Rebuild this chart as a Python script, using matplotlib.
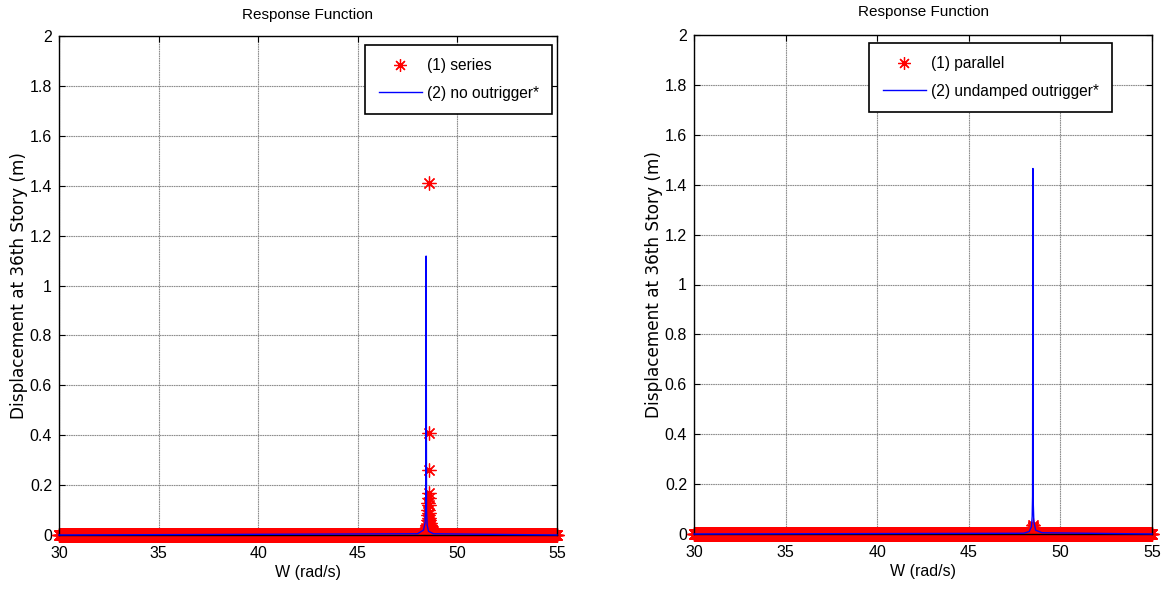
import numpy as np
import matplotlib
matplotlib.use("Agg")
import matplotlib.pyplot as plt

# ---------------- data ----------------
w_grid = np.linspace(30, 55, 1251)          # frequency sampling grid (rad/s)

# left: (1) series -- points departing from ~0 near resonance
series_peak_w = [48.35, 48.40, 48.44, 48.47, 48.50, 48.52, 48.53, 48.54, 48.55, 48.555,
                 48.56, 48.565, 48.57, 48.575, 48.58, 48.585, 48.59, 48.60, 48.61,
                 48.62, 48.64, 48.67, 48.70, 48.75, 48.80]
series_peak_y = [0.015, 0.02, 0.03, 0.04, 0.06, 0.08, 0.10, 0.13, 0.17, 0.26,
                 1.41, 0.41, 0.15, 0.12, 0.09, 0.07, 0.06, 0.05, 0.04,
                 0.035, 0.03, 0.025, 0.02, 0.015, 0.01]

# left: (2) no outrigger*
nooutr_w = [30.0, 48.00, 48.30, 48.38, 48.41, 48.43, 48.45, 48.48, 48.55, 48.80, 55.0]
nooutr_y = [0.0, 0.005, 0.02, 0.05, 0.12, 1.118, 0.10, 0.04, 0.015, 0.005, 0.0]

# right: (1) parallel
parallel_peak_w = [48.40, 48.45, 48.48, 48.50, 48.52, 48.55, 48.60]
parallel_peak_y = [0.01, 0.02, 0.03, 0.035, 0.03, 0.02, 0.01]

# right: (2) undamped outrigger*
undamped_w = [30.0, 48.00, 48.30, 48.42, 48.46, 48.48, 48.50, 48.52, 48.55, 48.65, 49.00, 55.0]
undamped_y = [0.0, 0.003, 0.01, 0.03, 0.07, 0.15, 1.465, 0.12, 0.05, 0.015, 0.005, 0.0]

x_ticks = [30, 35, 40, 45, 50, 55]
y_ticks = [0, 0.2, 0.4, 0.6, 0.8, 1, 1.2, 1.4, 1.6, 1.8, 2]
y_ticklabels = ['0', '0.2', '0.4', '0.6', '0.8', '1', '1.2', '1.4', '1.6', '1.8', '2']

# --------------- styling ---------------
plt.rcParams['font.family'] = ['Liberation Sans', 'DejaVu Sans']
plt.rcParams['font.size'] = 10.5

fig = plt.figure(figsize=(11.66, 5.90), dpi=100)
axL = fig.add_axes([59/1166, 1-535/590, (557-59)/1166, (535-36)/590])
axR = fig.add_axes([694/1166, 1-534/590, (1152-694)/1166, (534-35)/590])

AST = (8, 2, 0)   # 8-armed asterisk, like MATLAB '*'
MK = dict(linestyle='none', marker=AST, color='red', markersize=10,
          markeredgewidth=0.9, clip_on=False)


def setup(ax):
    ax.set_xlim(30, 55)
    ax.set_ylim(0, 2)
    ax.set_xticks(x_ticks)
    ax.set_yticks(y_ticks)
    ax.set_yticklabels(y_ticklabels)
    ax.grid(True, color='#8c8c8c', linestyle=(0, (1.5, 0.6)), linewidth=0.8)
    ax.set_axisbelow(True)
    ax.tick_params(direction='in', top=True, right=True, length=4, width=0.8,
                   labelsize=11.5)
    ax.tick_params(axis='x', pad=8)
    ax.tick_params(axis='y', pad=5)
    for s in ax.spines.values():
        s.set_linewidth(1.0)
        s.set_color('black')
    ax.set_xlabel('W (rad/s)', fontsize=11.5, labelpad=3)
    ax.set_ylabel('Displacement at 36th Story (m)', fontsize=12.2,
                  family=['DejaVu Sans'], labelpad=1)


def legend(ax, handles, labels, anchor):
    leg = ax.legend(handles, labels, loc='upper right', bbox_to_anchor=anchor,
                    fancybox=False, framealpha=1, edgecolor='black',
                    fontsize=11.2, handlelength=2.8, handletextpad=0.3,
                    borderpad=0.85, labelspacing=0.8, borderaxespad=0,
                    markerscale=0.9)
    leg.get_frame().set_linewidth(1.2)


# left
base = np.zeros_like(w_grid)
h1, = axL.plot(w_grid, base, **MK)
axL.plot(series_peak_w, series_peak_y, **MK)
h2, = axL.plot(nooutr_w, nooutr_y, color='blue', linewidth=1.0, clip_on=False,
               zorder=5)
setup(axL)
axL.set_title('Response Function', fontsize=11, pad=12)
legend(axL, [h1, h2], ['(1) series', '(2) no outrigger*'],
       ((552-59)/498, (535-45)/499))

# right
g1, = axR.plot(w_grid, base, **MK)
axR.plot(parallel_peak_w, parallel_peak_y, **MK)
g2, = axR.plot(undamped_w, undamped_y, color='blue', linewidth=1.0, clip_on=False,
               zorder=5)
setup(axR)
axR.set_title('Response Function', fontsize=11, pad=14)
legend(axR, [g1, g2], ['(1) parallel', '(2) undamped outrigger*'],
       ((1112-694)/458, (534-43)/499))

fig.savefig('out.png', dpi=100)
